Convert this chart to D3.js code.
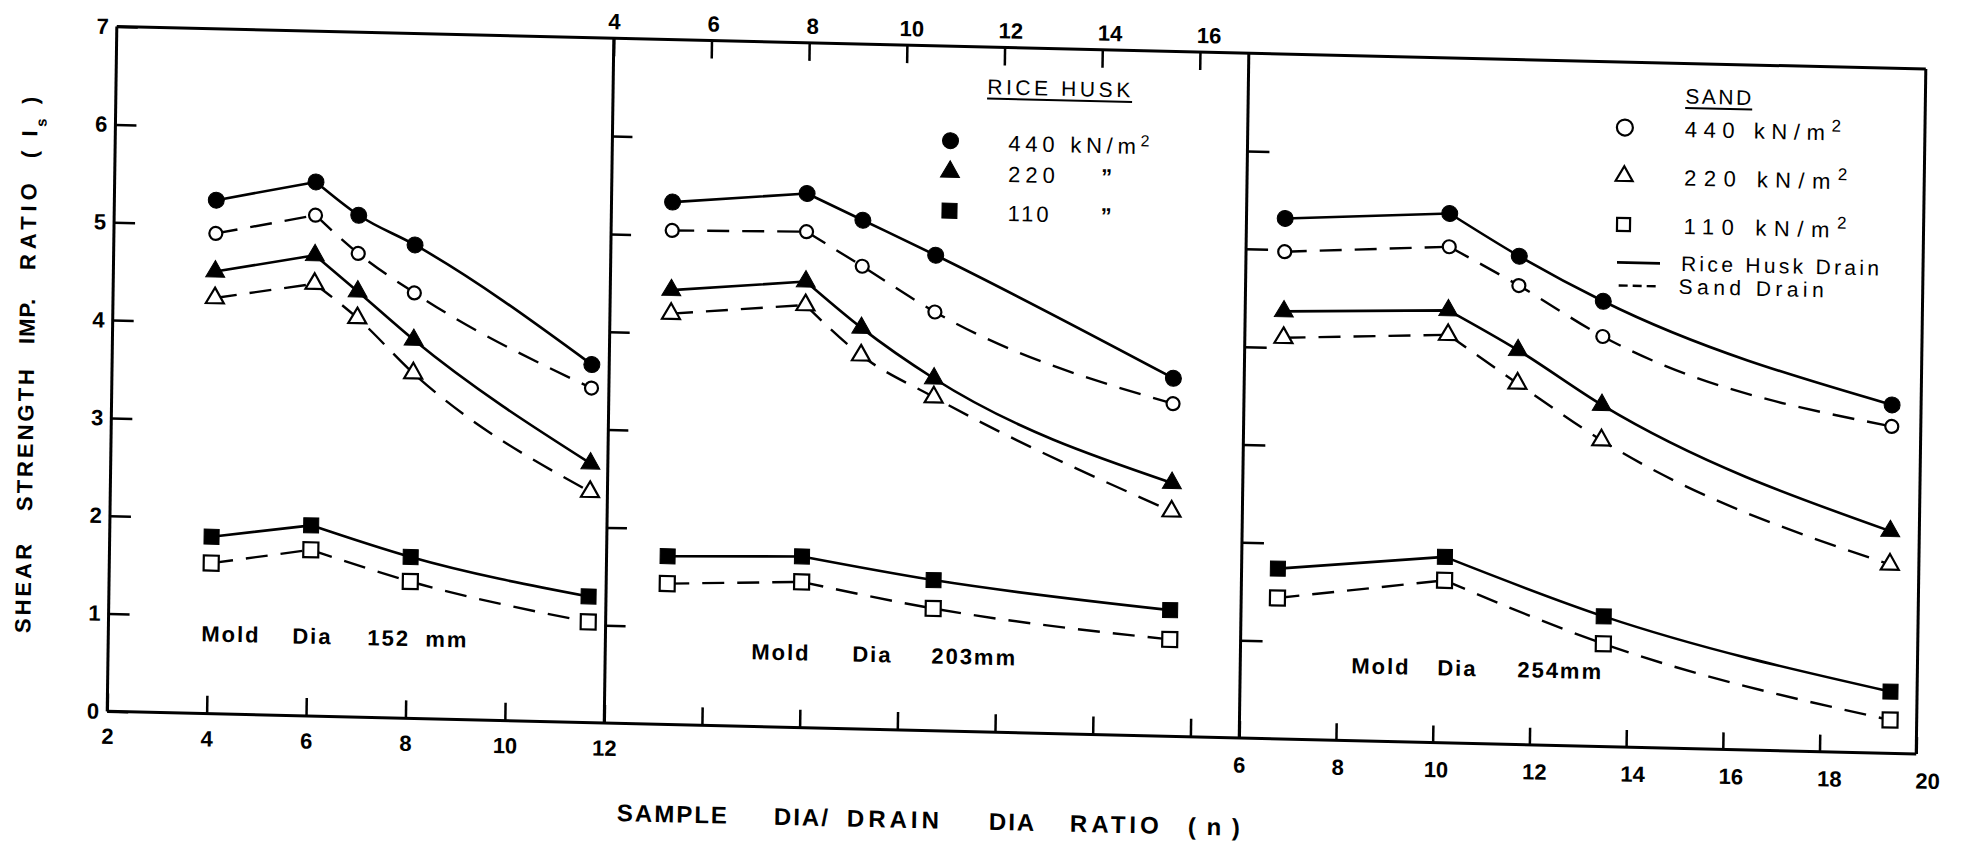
<!DOCTYPE html>
<html>
<head>
<meta charset="utf-8">
<script src="https://cdn.jsdelivr.net/npm/d3@7"></script>
<style>
  html, body { margin: 0; padding: 0; background: #fff; }
  svg { display: block; }
  text { font-family: "Liberation Sans", Arial, sans-serif; fill: #000; }
</style>
</head>
<body>
<svg id="chart" width="1962" height="845"></svg>
<script>
// ---- tick labels ----
const yTickVals = [0, 1, 2, 3, 4, 5, 6, 7];
const innerYTicks = [1, 2, 3, 4, 5, 6];
const xTicks152 = [2, 4, 6, 8, 10, 12];
const xTicks203 = [4, 6, 8, 10, 12, 14, 16];
const xTicks254 = [6, 8, 10, 12, 14, 16, 18, 20];

// ---- mould diameters (mm) and consolidation pressures (kN/m2) ----
const moldDia = ["152", "203", "254"];
const pressures = ["440", "220", "110"];

// ---- sample dia / drain dia ratio n ----
const n152 = [4.05, 6.05, 6.92, 8.06, 11.65];
const n152Sq = [4.05, 6.05, 8.06, 11.65];
const n203 = [5.25, 8.0, 9.15, 10.65, 15.55];
const n203Sq = [5.25, 8.0, 10.7, 15.55];
const n254 = [6.8, 10.2, 11.65, 13.4, 19.4];
const n254Sq = [6.75, 10.2, 13.5, 19.45];

// ---- shear strength improvement ratio Is : mould 152 mm ----
const rice440_152 = [5.25, 5.46, 5.13, 4.84, 3.66];
const rice220_152 = [4.52, 4.71, 4.35, 3.87, 2.65];
const rice110_152 = [1.81, 1.95, 1.65, 1.29];
const sand440_152 = [4.91, 5.12, 4.74, 4.35, 3.42];
const sand220_152 = [4.25, 4.42, 4.08, 3.53, 2.36];
const sand110_152 = [1.54, 1.70, 1.40, 1.03];

// ---- mould 203 mm ----
const rice440_203 = [5.34, 5.46, 5.20, 4.86, 3.66];
const rice220_203 = [4.44, 4.56, 4.10, 3.60, 2.59];
const rice110_203 = [1.72, 1.75, 1.54, 1.29];
const sand440_203 = [5.05, 5.07, 4.73, 4.28, 3.40];
const sand220_203 = [4.20, 4.32, 3.82, 3.41, 2.30];
const sand110_203 = [1.44, 1.49, 1.25, 0.99];

// ---- mould 254 mm ----
const rice440_254 = [5.32, 5.41, 4.99, 4.55, 3.56];
const rice220_254 = [4.37, 4.42, 4.03, 3.49, 2.27];
const rice110_254 = [1.74, 1.90, 1.33, 0.63];
const sand440_254 = [4.98, 5.07, 4.69, 4.19, 3.34];
const sand220_254 = [4.10, 4.17, 3.69, 3.13, 1.93];
const sand110_254 = [1.44, 1.66, 1.05, 0.34];

// ---- layout ----
const svg = d3.select("#chart");
const frameTop = 46.5, frameBottom = 731.3;
const yScale = d3.scaleLinear().domain([0, 7]).range([frameBottom, frameTop]);

const panels = [
  { mold: moldDia[0], x: d3.scaleLinear().domain([2, 12]).range([112, 609]),
    n: n152, nSq: n152Sq,
    rice: [rice440_152, rice220_152, rice110_152],
    sand: [sand440_152, sand220_152, sand110_152] },
  { mold: moldDia[1], x: d3.scaleLinear().domain([4, 17]).range([609, 1244]),
    n: n203, nSq: n203Sq,
    rice: [rice440_203, rice220_203, rice110_203],
    sand: [sand440_203, sand220_203, sand110_203] },
  { mold: moldDia[2], x: d3.scaleLinear().domain([6, 20]).range([1244, 1921]),
    n: n254, nSq: n254Sq,
    rice: [rice440_254, rice220_254, rice110_254],
    sand: [sand440_254, sand220_254, sand110_254] }
];

// the drawing sheet sits slightly askew (sheared) on the page
const sheet = svg.append("g").attr("transform", "matrix(1,0.0235,-0.014,1,5.46,-22.56)");

// ---- marker shapes ----
function trianglePath(s) {
  const h = s * Math.sqrt(3) / 2;
  return `M0,${-2 * h / 3}L${s / 2},${h / 3}L${-s / 2},${h / 3}Z`;
}
function squarePath(s) {
  return `M${-s / 2},${-s / 2}h${s}v${s}h${-s}Z`;
}
function circlePath(r) {
  return `M${r},0A${r},${r} 0 1,1 ${-r},0A${r},${r} 0 1,1 ${r},0Z`;
}
const riceShapes = [circlePath(8), trianglePath(19), squarePath(15)];
const sandShapes = [circlePath(6.5), trianglePath(18), squarePath(15)];

function drawMarker(g, shape, x, y, filled) {
  g.append("path")
    .attr("d", shape)
    .attr("transform", `translate(${x},${y})`)
    .attr("fill", filled ? "#000" : "#fff")
    .attr("stroke", "#000")
    .attr("stroke-width", filled ? 1 : 2.2);
}

function seriesPath(xs, ys, xScale) {
  const pts = xs.map((n, i) => [xScale(n), yScale(ys[i])]);
  const iPeak = d3.maxIndex(ys);
  const rise = d3.line().curve(d3.curveLinear)(pts.slice(0, iPeak + 1));
  const fall = d3.line().curve(d3.curveMonotoneX)(pts.slice(iPeak));
  return rise + fall;
}

// ---- frame ----
const frame = sheet.append("g").attr("stroke", "#000").attr("stroke-width", 3).attr("fill", "none");
frame.append("line").attr("x1", panels[0].x(2)).attr("x2", panels[2].x(20)).attr("y1", frameTop).attr("y2", frameTop);
frame.append("line").attr("x1", panels[0].x(2)).attr("x2", panels[2].x(20)).attr("y1", frameBottom).attr("y2", frameBottom);
[panels[0].x(2), panels[1].x(4), panels[2].x(6), panels[2].x(20)].forEach(xv => {
  frame.append("line").attr("x1", xv).attr("x2", xv).attr("y1", frameTop).attr("y2", frameBottom);
});

function styleAxis(g) {
  g.select(".domain").remove();
  g.selectAll(".tick line").attr("stroke", "#000").attr("stroke-width", 2.5);
  g.selectAll(".tick text")
    .style("font-size", "22px").style("font-weight", "bold").attr("fill", "#000");
}
const intFmt = d3.format("d");

// left panel axes
sheet.append("g").attr("transform", `translate(${panels[0].x(2)},0)`)
  .call(d3.axisLeft(yScale).tickValues(yTickVals).tickFormat(intFmt)
    .tickSizeInner(-21).tickSizeOuter(0).tickPadding(8))
  .call(styleAxis);
sheet.append("g").attr("transform", `translate(0,${frameBottom})`)
  .call(d3.axisBottom(panels[0].x).tickValues(xTicks152).tickFormat(intFmt)
    .tickSizeInner(-18).tickSizeOuter(0).tickPadding(17))
  .call(styleAxis);

// middle panel axes
sheet.append("g").attr("transform", `translate(0,${frameTop})`)
  .call(d3.axisTop(panels[1].x).tickValues(xTicks203).tickFormat(intFmt)
    .tickSizeInner(-18).tickSizeOuter(0).tickPadding(9))
  .call(styleAxis)
  .call(g => g.selectAll(".tick text").attr("dx", d => (d - 4) * 0.7));
sheet.append("g").attr("transform", `translate(0,${frameBottom})`)
  .call(d3.axisBottom(panels[1].x).tickValues(xTicks203.slice(1)).tickSizeInner(-18).tickSizeOuter(0).tickFormat(""))
  .call(styleAxis);
sheet.append("g").attr("transform", `translate(${panels[1].x(4)},0)`)
  .call(d3.axisRight(yScale).tickValues(innerYTicks).tickSizeInner(20).tickSizeOuter(0).tickFormat(""))
  .call(styleAxis);

// right panel axes
sheet.append("g").attr("transform", `translate(${panels[2].x(6)},0)`)
  .call(d3.axisRight(yScale).tickValues(innerYTicks).tickSizeInner(22).tickSizeOuter(0).tickFormat(""))
  .call(styleAxis);
sheet.append("g").attr("transform", `translate(0,${frameBottom})`)
  .call(d3.axisBottom(panels[2].x).tickValues(xTicks254).tickFormat(intFmt)
    .tickSizeInner(-17).tickSizeOuter(0).tickPadding(19))
  .call(styleAxis)
  .call(g => g.selectAll(".tick text").attr("dx", d => (d - 6) * 0.8));

// ---- curves and points ----
panels.forEach(p => {
  const g = sheet.append("g");
  pressures.forEach((pr, k) => {
    const xs = k === 2 ? p.nSq : p.n;
    g.append("path").attr("d", seriesPath(xs, p.sand[k], p.x))
      .attr("fill", "none").attr("stroke", "#000").attr("stroke-width", 2.4)
      .attr("stroke-dasharray", "22,13");
    g.append("path").attr("d", seriesPath(xs, p.rice[k], p.x))
      .attr("fill", "none").attr("stroke", "#000").attr("stroke-width", 2.6);
  });
  pressures.forEach((pr, k) => {
    const xs = k === 2 ? p.nSq : p.n;
    p.sand[k].forEach((v, i) => drawMarker(g, sandShapes[k], p.x(xs[i]), yScale(v), false));
    p.rice[k].forEach((v, i) => drawMarker(g, riceShapes[k], p.x(xs[i]), yScale(v), true));
  });
});

// ---- word-placed labels ----
function words(g, list, y, size, weight, spacing) {
  const t = g.append("text").attr("y", y)
    .style("font-size", size + "px").style("font-weight", weight)
    .style("letter-spacing", spacing + "px");
  list.forEach(([s, x, ls]) => {
    const ts = t.append("tspan").attr("x", x).text(s);
    if (ls !== undefined) ts.style("letter-spacing", ls + "px");
  });
  return t;
}

// mould diameter notes
words(sheet, [["Mold", 205], ["Dia", 296], [panels[0].mold, 371], ["mm", 429]], 659, 22, "bold", 2);
words(sheet, [["Mold", 755], ["Dia", 856], [panels[1].mold + "mm", 935]], 664, 22, "bold", 2);
words(sheet, [["Mold", 1355], ["Dia", 1441], [panels[2].mold + "mm", 1521]], 664, 22, "bold", 2);

// x axis title
words(sheet, [["SAMPLE", 623], ["DIA/", 780], ["DRAIN", 853, 4], ["DIA", 995], ["RATIO", 1076, 4], ["( n )", 1194]],
      829, 24, "bold", 2);

// y axis title
const yTitle = sheet.append("g").attr("transform", "translate(34,0) rotate(-90)");
words(yTitle, [["SHEAR", -655], ["STRENGTH", -533], ["IMP.", -366, 1], ["RATIO", -292, 5]], 0, 22, "bold", 3);
const isLabel = yTitle.append("text").attr("x", -180).attr("y", 0)
  .style("font-size", "22px").style("font-weight", "bold").style("letter-spacing", "4px");
isLabel.append("tspan").text("( I");
isLabel.append("tspan").attr("baseline-shift", "sub").style("font-size", "15px").text("s");
isLabel.append("tspan").text(" )");

// ---- rice husk legend (filled symbols) ----
const leg1 = sheet.append("g");
leg1.append("text").attr("x", 983).attr("y", 93.5).attr("textLength", 143).attr("lengthAdjust", "spacing")
  .style("font-size", "21px").text("RICE  HUSK");
leg1.append("line").attr("x1", 983).attr("x2", 1128).attr("y1", 98).attr("y2", 98)
  .attr("stroke", "#000").attr("stroke-width", 2);
const leg1Y = [141, 172, 211];
pressures.forEach((pr, k) => {
  drawMarker(leg1, riceShapes[k], 947, leg1Y[k], true);
  const t = leg1.append("text").attr("x", 1005).attr("y", leg1Y[k] + 9).style("font-size", "22px");
  if (k === 0) {
    t.attr("textLength", 141).attr("lengthAdjust", "spacing");
    t.append("tspan").text(pr + " kN/m");
    t.append("tspan").attr("baseline-shift", "super").style("font-size", "16px").text("2");
  } else {
    t.style("letter-spacing", k === 1 ? "5px" : "3px").text(pr);
    leg1.append("text").attr("x", 1098).attr("y", leg1Y[k] + 9).style("font-size", "22px")
      .style("font-weight", "bold").text("\u201D");
  }
});

// ---- sand legend (open symbols) and line key ----
const leg2 = sheet.append("g");
leg2.append("text").attr("x", 1681).attr("y", 86.5).attr("textLength", 66).attr("lengthAdjust", "spacing")
  .style("font-size", "21px").text("SAND");
leg2.append("line").attr("x1", 1681).attr("x2", 1748).attr("y1", 91).attr("y2", 91)
  .attr("stroke", "#000").attr("stroke-width", 2);
const leg2Y = [112, 160.5, 209];
const leg2W = [156, 163, 163];
pressures.forEach((pr, k) => {
  drawMarker(leg2, [circlePath(8), trianglePath(17), squarePath(13)][k], 1621, leg2Y[k], false);
  const t = leg2.append("text").attr("x", 1681).attr("y", leg2Y[k] + 8)
    .attr("textLength", leg2W[k]).attr("lengthAdjust", "spacing").style("font-size", "22px");
  t.append("tspan").text(pr + "  kN/m");
  t.append("tspan").attr("baseline-shift", "super").style("font-size", "17px").text("2");
});
leg2.append("line").attr("x1", 1615).attr("x2", 1658).attr("y1", 247).attr("y2", 247)
  .attr("stroke", "#000").attr("stroke-width", 2.6);
leg2.append("text").attr("x", 1679).attr("y", 254).attr("textLength", 198).attr("lengthAdjust", "spacing")
  .style("font-size", "21px").text("Rice Husk Drain");
leg2.append("line").attr("x1", 1617).attr("x2", 1658).attr("y1", 270).attr("y2", 270)
  .attr("stroke", "#000").attr("stroke-width", 2.4).attr("stroke-dasharray", "9,5");
leg2.append("text").attr("x", 1677).attr("y", 277).attr("textLength", 145).attr("lengthAdjust", "spacing")
  .style("font-size", "21px").text("Sand  Drain");
</script>
</body>
</html>
